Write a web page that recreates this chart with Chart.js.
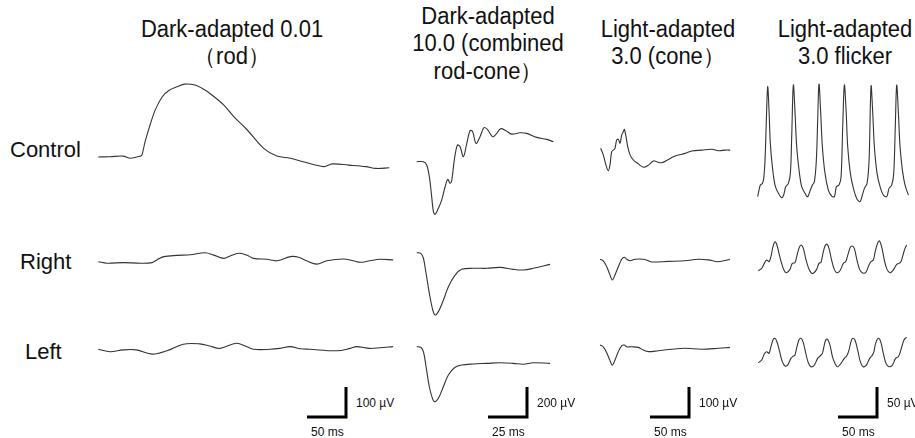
<!DOCTYPE html>
<html>
<head>
<meta charset="utf-8">
<script src="https://cdn.jsdelivr.net/npm/chart.js@4.4.1/dist/chart.umd.min.js"></script>
<style>
body { margin: 0; background: #fff; }
#figure { position: relative; width: 915px; height: 438px; overflow: hidden; font-family: "Liberation Sans", Arial, sans-serif; color: #111; }
#figure canvas { position: absolute; }
.title { position: absolute; font-size: 22px; line-height: 26px; text-align: center; white-space: nowrap; transform: translateX(-50%) scaleY(1.06); }
.row { position: absolute; font-size: 22px; line-height: 22px; }
.scale { position: absolute; font-size: 12px; line-height: 12px; white-space: nowrap; }
</style>
</head>
<body>
<div id="figure">
  <div class="title" style="left:232px; top:17px;">Dark-adapted 0.01<br>（rod）</div>
  <div class="title" style="left:488px; top:5px;">Dark-adapted<br>10.0 (combined<br>rod-cone）</div>
  <div class="title" style="left:668px; top:17px;">Light-adapted<br>3.0 (cone）</div>
  <div class="title" style="left:845px; top:17px;">Light-adapted<br>3.0 flicker</div>
  <div class="row" style="left:10px; top:139px;">Control</div>
  <div class="row" style="left:20px; top:251px;">Right</div>
  <div class="row" style="left:25px; top:341px;">Left</div>
</div>
<script>
// 各波形: [時間 ms, 電位 µV]
const rodControl = [[0,0],[15,1],[32,3],[41,-4],[54,3],[56,7],[60,51],[67,112],[73,157],[82,201],[90,221],[101,234],[111,243],[124,240],[133,229],[144,210],[161,173],[174,134],[191,90],[212,29],[229,3],[246,-4],[263,-16],[289,-32],[300,-23],[321,-27],[343,-32],[356,-38],[373,-36]];
const rodRight = [[0,0],[11,-5],[32,-3],[54,-5],[69,-3],[75,6],[84,17],[101,21],[118,23],[137,30],[148,22],[161,11],[169,19],[180,28],[190,22],[199,11],[216,8],[229,3],[246,17],[257,15],[267,3],[280,-8],[293,3],[314,9],[327,3],[336,-2],[348,3],[361,8],[378,6]];
const rodLeft = [[0,0],[15,-8],[32,-2],[49,-2],[69,-16],[88,-5],[109,17],[130,18],[143,11],[156,3],[177,20],[190,9],[199,0],[220,0],[233,3],[246,9],[259,2],[271,0],[306,-5],[323,3],[331,9],[348,3],[361,5],[378,9]];

const mixedControl = [[0,0],[4.3,0],[6.4,-22],[8.1,-100],[9.6,-233],[10.7,-333],[11.8,-351],[13.9,-311],[16,-256],[18.2,-167],[19.9,-118],[21.4,-144],[22.5,-122],[24.1,11],[26.1,111],[27.8,100],[29.9,33],[32.1,122],[34.2,207],[35.9,200],[38,122],[40.6,167],[43.1,227],[45.3,216],[48.7,167],[51.3,189],[53.8,220],[57.2,207],[60.9,184],[66.2,193],[70.5,189],[76.9,162],[83.3,149],[87.6,133]];
const mixedRight = [[0,0],[2.6,-4],[4.3,-37],[6,-137],[8.1,-271],[10.3,-382],[11.8,-415],[13.9,-393],[16.7,-327],[20.3,-227],[24.6,-149],[28.8,-111],[36.3,-104],[44.9,-104],[53.4,-98],[61.9,-111],[68.4,-115],[74.8,-104],[85.5,-78]];
const mixedLeft = [[0,0],[2.6,-4],[4.3,-33],[6,-133],[8.1,-267],[10.3,-351],[11.8,-367],[13.9,-344],[16.7,-277],[20.3,-189],[24.6,-137],[28.8,-122],[36.3,-115],[44.9,-111],[53.4,-107],[61.9,-111],[68.4,-117],[74.8,-107],[85.5,-111]];

const coneControl = [[0,0],[3.3,-22],[6.8,-56],[9.7,-75],[11.9,-56],[14.1,-11],[16.2,-6],[18.3,0],[20.5,28],[22.6,30],[24.8,17],[26.9,44],[29,55],[30.3,63],[32.1,44],[34.7,5],[37.6,-22],[41.9,-39],[48.3,-52],[54.7,-63],[61.2,-56],[67.6,-42],[71.9,-45],[78.3,-48],[86.8,-37],[95.4,-26],[108.2,-17],[116.8,-9],[129.7,-6],[142.5,-3],[151,-8],[159.6,-6],[166,-6]];
const coneRight = [[0,0],[4.2,-5],[8.6,-25],[12.8,-52],[15.8,-69],[19.2,-52],[23.5,-25],[27.8,0],[31.2,7],[34.2,0],[38.5,-5],[44.9,0],[55.5,0],[61.9,-5],[66.3,-9],[87.6,-7],[109,-5],[126,0],[138.9,-2],[151.7,-8],[166.6,0]];
const coneLeft = [[0,0],[4.2,-6],[8.6,-26],[12.8,-52],[15.8,-67],[19.2,-50],[23.5,-22],[27.8,-3],[31.2,0],[34.2,-6],[40.6,-6],[49.1,-8],[55.5,-17],[61.9,-22],[74.7,-19],[91.9,-14],[109,-11],[130.4,-14],[151.7,-11],[166.6,-8]];

const flickerControl = [[0,0],[1.7,11.1],[3.4,19.4],[6,22.2],[7.7,30.6],[9.4,61.1],[11.1,127.8],[12.8,183.3],[14.5,144.4],[16.2,88.9],[18.8,50],[22.2,19.4],[26.5,5.6],[30.8,-1.7],[33.3,2.8],[35.9,16.7],[39.3,22.2],[41.9,38.9],[43.6,100],[45.7,186.1],[47.9,138.9],[50,83.3],[53,44.4],[56.4,16.7],[60.7,5.6],[64.1,0],[67.5,11.1],[70.1,19.4],[72.7,25],[75.2,61.1],[76.9,127.8],[78.6,187.8],[80.8,138.9],[82.9,83.3],[86.3,38.9],[90.6,11.1],[94.9,1.1],[98.3,0],[100.9,16.7],[104.3,19.4],[106.9,33.3],[109,116.7],[111.1,186.1],[113.3,144.4],[115.4,83.3],[118.8,38.9],[122.7,13.9],[126.9,-2.8],[131.2,-8.3],[134.2,2.8],[136.8,13.9],[140.2,22.2],[142.8,61.1],[145.3,184.4],[147.5,138.9],[149.6,83.3],[153,38.9],[156.9,16.7],[161.1,2.8],[165.4,0],[168.4,13.9],[171.8,19.4],[174.4,38.9],[176.5,122.2],[178.2,186.1],[180.4,138.9],[182.5,83.3],[185.5,44.4],[188.9,19.4],[193.2,2.8]];
const flickerRight = [[0,0],[4.3,3.9],[7.7,12.2],[10.7,17.8],[13.7,15],[16.2,23.3],[18.8,40],[21.4,48.3],[23.9,42.8],[26.5,28.9],[29.9,12.2],[33.3,0],[36.3,-3.3],[40.6,2.2],[43.6,12.2],[47,13.3],[49.2,23.3],[52.1,37.2],[54.7,42.8],[57.7,37.2],[60.7,20.6],[64.1,5.6],[67.5,-3.3],[70.5,-4.4],[74.8,2.2],[77.8,12.2],[80.4,13.9],[82.9,28.9],[85.5,41.1],[88,44.4],[90.6,37.2],[94,17.8],[97.4,2.2],[100.4,-3.3],[104.7,0],[109,12.2],[112,15],[115.4,28.9],[118,38.9],[120.5,41.1],[123.1,37.2],[126.5,17.8],[129.9,2.2],[133.3,-3.3],[137.6,-3.3],[141.9,9.4],[144.5,15],[147.5,17.8],[149.6,30],[152.2,42.8],[155.1,50],[158.1,40],[161.6,17.8],[165,2.2],[168.8,-3.3],[173.1,1.1],[177.4,10.6],[180.4,12.2],[182.9,15],[185.5,26.1],[188.1,37.2],[190.2,42.8]];
const flickerLeft = [[0,0],[4.3,4.4],[7.7,14.4],[10.7,18.3],[13.7,15.6],[16.2,26.7],[19.2,38.9],[21.4,40.6],[23.9,35],[27.4,18.3],[30.8,1.7],[34.2,-5.6],[37.6,-3.9],[41.9,7.2],[44.9,11.1],[47,12.8],[49.6,26.7],[52.1,37.8],[54.7,40.6],[57.3,35],[60.7,16.7],[64.1,0],[67.5,-6.7],[71.8,-3.9],[76.1,7.2],[79.1,11.1],[82.1,15.6],[84.6,29.4],[86.8,38.9],[88.9,38.9],[91.9,29.4],[94.9,11.1],[98.3,-1.1],[101.7,-6.7],[106,-1.1],[110.3,7.2],[113.3,11.1],[116.3,21.1],[118.8,35],[121,40.6],[123.9,37.8],[127.4,21.1],[130.8,1.7],[134.2,-6.7],[138.5,-3.9],[142.8,7.2],[145.3,11.1],[147.9,16.7],[150.4,32.2],[153.9,40.6],[156.9,35],[160.3,15.6],[163.7,-1.1],[167.5,-6.7],[171.8,-3.9],[176.1,7.2],[179.5,10],[182.1,18.3],[184.6,29.4],[187.2,38.9],[190.2,42.2]];

// スケールバー (ms, µV)
const scaleMs = [50, 25, 50, 50];
const scaleUv = [100, 200, 100, 50];

// 各列の配置 (px/ms, px/µV, 原点の位置)
const columns = [
    { traces: [rodControl, rodRight, rodLeft], msPx: 39 / 50, uvPx: 30 / 100, x0: [98.3, 98.3, 98.3], y0: [157, 261.7, 349.3], bar: [307, 417] },
    { traces: [mixedControl, mixedRight, mixedLeft], msPx: 39 / 25, uvPx: 30 / 200, x0: [416.7, 416.7, 416.7], y0: [161.7, 252.7, 346.7], bar: [488, 417] },
    { traces: [coneControl, coneRight, coneLeft], msPx: 39 / 50, uvPx: 30 / 100, x0: [600.7, 600, 600], y0: [148.3, 259.3, 345], bar: [650, 417] },
    { traces: [flickerControl, flickerRight, flickerLeft], msPx: 39 / 50, uvPx: 30 / 50, x0: [757.7, 758.3, 758.3], y0: [196.7, 270.7, 362.7], bar: [838, 417] }
];

let elFigure = document.querySelector('#figure');

const addChart = (points, col, ox, oy, style) => {
    let xs = points.map(p => p[0]);
    let ys = points.map(p => p[1]);
    let pad = 4;
    let left = Math.floor(ox - pad);
    let top = Math.floor(oy - Math.max(...ys) * col.uvPx - pad);
    let width = Math.ceil(Math.max(...xs) * col.msPx + (ox - left) + pad);
    let height = Math.ceil((oy - top) - Math.min(...ys) * col.uvPx + pad);
    let xmin = -(ox - left) / col.msPx;
    let ymax = (oy - top) / col.uvPx;

    let el = document.createElement('canvas');
    el.width = width;
    el.height = height;
    el.style.left = left + 'px';
    el.style.top = top + 'px';
    elFigure.appendChild(el);

    new Chart(el, {
        type: 'line',
        data: {
            datasets: [{
                data: points.map(p => ({ x: p[0], y: p[1] })),
                borderColor: style.color,
                borderWidth: style.width,
                tension: style.tension,
                borderJoinStyle: style.join,
                borderCapStyle: 'butt',
                pointRadius: 0,
                fill: false,
                clip: false
            }]
        },
        options: {
            responsive: false,
            animation: false,
            events: [],
            layout: { padding: 0 },
            plugins: { legend: { display: false }, tooltip: { enabled: false } },
            scales: {
                x: { type: 'linear', display: false, min: xmin, max: xmin + width / col.msPx },
                y: { type: 'linear', display: false, min: ymax - height / col.uvPx, max: ymax }
            }
        }
    });
}

const addLabel = (text, x, y) => {
    let el = document.createElement('div');
    el.className = 'scale';
    el.textContent = text;
    el.style.left = x + 'px';
    el.style.top = (y - 6) + 'px';
    elFigure.appendChild(el);
}

columns.forEach((col, i) => {
    col.traces.forEach((trace, r) => {
        addChart(trace, col, col.x0[r], col.y0[r], { color: '#333', width: 1.1, tension: 0.35, join: 'round' });
    });

    let ms = scaleMs[i];
    let uv = scaleUv[i];
    let bar = [[0, 0], [ms, 0], [ms, uv]];
    addChart(bar, col, col.bar[0], col.bar[1], { color: '#000', width: 3, tension: 0, join: 'miter' });

    let barEnd = col.bar[0] + ms * col.msPx;
    addLabel(uv + ' µV', barEnd + 10, col.bar[1] - 14);
    addLabel(ms + ' ms', col.bar[0] + 4, col.bar[1] + 15);
});
</script>
</body>
</html>
